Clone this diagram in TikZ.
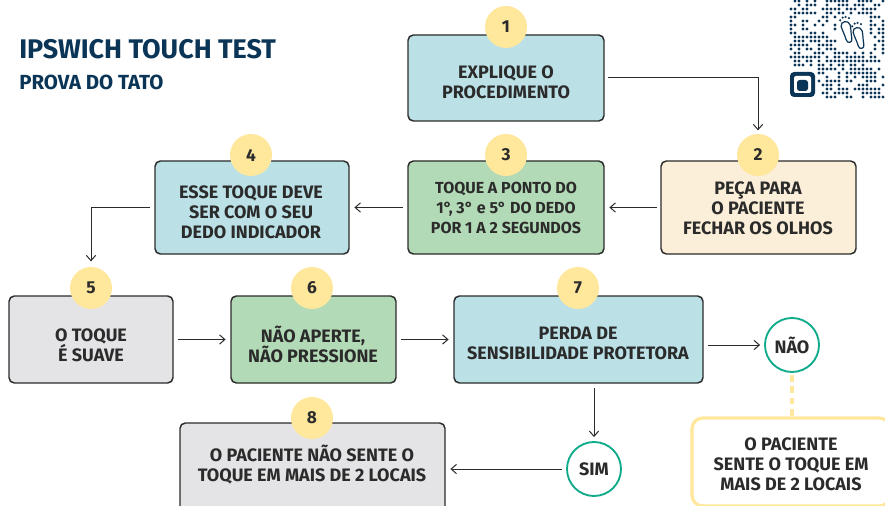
\documentclass[tikz,border=0pt]{standalone}
\usepackage{fontspec}
\setmainfont{Fira Sans}
\usepackage{xcolor}
\usetikzlibrary{shapes,arrows.meta,positioning}
\definecolor{navy}{HTML}{0B3556}
\definecolor{ink}{HTML}{2B2B2B}
\definecolor{boxblue}{HTML}{BBE1E7}
\definecolor{boxcream}{HTML}{FBEFD9}
\definecolor{boxgreen}{HTML}{B3DAB6}
\definecolor{boxgray}{HTML}{E4E4E6}
\definecolor{numyellow}{HTML}{FFE79B}
\definecolor{teal}{HTML}{0FAB8A}
\tikzset{
  stepbox/.style={draw=ink,line width=1.1pt,rounded corners=4pt,inner sep=0pt},
  boxtext/.style={text=ink,align=center,font=\bfseries\fontsize{13.5}{15}\selectfont,inner sep=0pt},
  numdot/.style={circle,fill=numyellow,minimum size=31.5pt,inner sep=0pt,text=ink,font=\bfseries\fontsize{13}{14}\selectfont},
  answer/.style={circle,draw=teal,fill=white,line width=1.4pt,minimum size=40.5pt,inner sep=0pt,text=ink,font=\bfseries\fontsize{13.5}{14}\selectfont},
  flow/.style={draw=ink,line width=0.75pt,-{Straight Barb[length=4pt,width=7pt]}},
}
\begin{document}
\begin{tikzpicture}[x=0.75pt,y=0.75pt,yscale=-1,xscale=1]
    \clip (0,0) rectangle (885,506);

    % Title
    \node [anchor=west,inner sep=0pt,text=navy,font=\bfseries\fontsize{20.2}{22}\selectfont] (title) at (19,49) {IPSWICH TOUCH TEST};
    \node [anchor=west,inner sep=0pt,text=navy,font=\bfseries\fontsize{15.3}{17}\selectfont] (subtitle) at (19,82) {PROVA DO TATO};

    % QR code
    \pgfmathsetseed{11}
    \foreach \i in {0,...,23}
      \foreach \j in {0,...,24}{
        \pgfmathtruncatemacro\qrbit{((rnd<0.58)&&!(\i>=12&&\i<=19&&\j>=4&&\j<=12)&&!(\i<=6&&\j>=17))?1:0}
        \ifnum\qrbit=1 \fill[navy] (791+4*\i,1+4*\j) circle (1.7); \fi
      }
    \fill [navy,rounded corners=3pt] (790,72) rectangle (815,97);
    \fill [white,rounded corners=1.5pt] (794,76) rectangle (811,93);
    \fill [navy,rounded corners=2pt] (797,80) rectangle (808,91);
    % Feet
    \foreach \fx/\fy/\fa in {847/31/-14,859/37/-14}{
      \draw [navy,line width=0.9pt,rotate around={\fa:(\fx,\fy)}]
        (\fx-4.5,\fy-6) .. controls (\fx-4.5,\fy-11) and (\fx+4.5,\fy-11) .. (\fx+4.5,\fy-5)
        .. controls (\fx+4.5,\fy) and (\fx+3,\fy+3) .. (\fx+3,\fy+8)
        .. controls (\fx+3,\fy+13) and (\fx-3,\fy+13) .. (\fx-3,\fy+8)
        .. controls (\fx-3,\fy+3) and (\fx-4.5,\fy-1) .. cycle;
      \fill [navy,rotate around={\fa:(\fx,\fy)}] (\fx-4,\fy-12) circle (1.2) (\fx-1,\fy-14) circle (1.2) (\fx+2,\fy-14) circle (1.2) (\fx+5,\fy-12) circle (1.2);
    }

    % Boxes
    \node [stepbox,fill=boxblue,minimum width=147pt,minimum height=64.5pt] (box1) at (506,78) {};
    \node [stepbox,fill=boxcream,minimum width=146.25pt,minimum height=69.75pt] (box2) at (758.5,207.5) {};
    \node [stepbox,fill=boxgreen,minimum width=147pt,minimum height=69.75pt] (box3) at (506,207.5) {};
    \node [stepbox,fill=boxblue,minimum width=145.5pt,minimum height=69.75pt] (box4) at (252,207.5) {};
    \node [stepbox,fill=boxgray,minimum width=123pt,minimum height=65.25pt] (box5) at (91,339.5) {};
    \node [stepbox,fill=boxgreen,minimum width=123.75pt,minimum height=65.25pt] (box6) at (313.5,339.5) {};
    \node [stepbox,fill=boxblue,minimum width=186.75pt,minimum height=65.25pt] (box7) at (578.5,339.5) {};
    \node [stepbox,fill=boxgray,minimum width=198.75pt,minimum height=70.5pt] (box8) at (312.5,470) {};
    \node [stepbox,draw=numyellow,line width=2.4pt,rounded corners=8pt,fill=white,minimum width=148.5pt,minimum height=66pt] (boxend) at (791,462) {};

    % Text Node
    \node [boxtext] (text1) at (506,82) {EXPLIQUE O\\PROCEDIMENTO};
    \node [boxtext] (text2) at (758,208) {PEÇA PARA\\O PACIENTE\\FECHAR OS OLHOS};
    \node [boxtext,font=\bfseries\fontsize{12}{15}\selectfont] (text3) at (506,208) {TOQUE A PONTO DO\\1°, 3° e 5° DO DEDO\\POR 1 A 2 SEGUNDOS};
    \node [boxtext] (text4) at (251,212) {ESSE TOQUE DEVE\\SER COM O SEU\\DEDO INDICADOR};
    \node [boxtext] (text5) at (91,345) {O TOQUE\\É SUAVE};
    \node [boxtext] (text6) at (313,344) {NÃO APERTE,\\NÃO PRESSIONE};
    \node [boxtext] (text7) at (578,343) {PERDA DE\\SENSIBILIDADE PROTETORA};
    \node [boxtext] (text8) at (312,465) {O PACIENTE NÃO SENTE O\\TOQUE EM MAIS DE 2 LOCAIS};
    \node [boxtext] (textend) at (791,464) {O PACIENTE\\SENTE O TOQUE EM\\MAIS DE 2 LOCAIS};

    % Numbers
    \node [numdot] (num1) at (506,27) {1};
    \node [numdot] (num2) at (758,155) {2};
    \node [numdot] (num3) at (506,155) {3};
    \node [numdot] (num4) at (251,155) {4};
    \node [numdot] (num5) at (91,288) {5};
    \node [numdot] (num6) at (312,288) {6};
    \node [numdot] (num7) at (578,288) {7};
    \node [numdot] (num8) at (312,418) {8};

    % Answers
    \node [answer] (nao) at (792,345) {NÃO};
    \node [answer] (sim) at (594,469) {SIM};

    % Connectors
    \draw [flow,shorten <=2.5pt,shorten >=2.5pt] (box1.east) -| (num2.north);
    \draw [flow,shorten <=2.5pt,shorten >=3.5pt] (box2.west) -- (box3.east);
    \draw [flow,shorten <=3.5pt,shorten >=3.5pt] (box3.west) -- (box4.east);
    \draw [flow,shorten <=3pt,shorten >=4pt] (box4.west) -| (num5.north);
    \draw [flow,shorten <=3.5pt,shorten >=3.5pt] (box5.east) -- (box6.west);
    \draw [flow,shorten <=3.5pt,shorten >=3.5pt] (box6.east) -- (box7.west);
    \draw [flow,shorten <=3.5pt,shorten >=3pt] (nao.west -| box7.east) -- (nao.west);
    \draw [flow,shorten <=3.5pt,shorten >=3pt] (sim.north |- box7.south) -- (sim.north);
    \draw [flow,shorten <=3pt,shorten >=3.5pt] (sim.west) -- (sim.west -| box8.east);
    \draw [numyellow,line width=2.4pt,dash pattern=on 5pt off 3.5pt,shorten <=1.5pt] (nao.south) -- (nao.south |- boxend.north);
\end{tikzpicture}
\end{document}
